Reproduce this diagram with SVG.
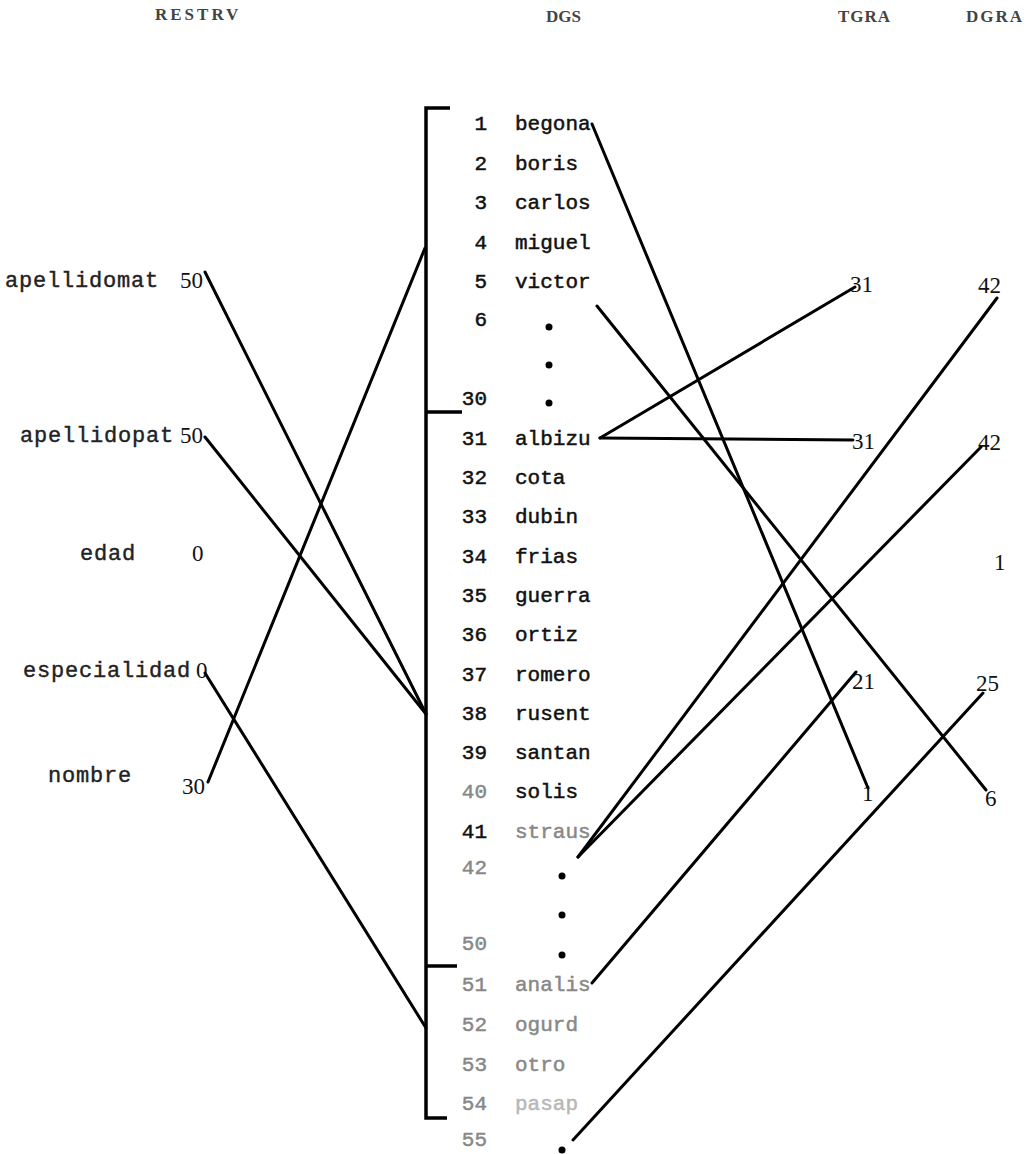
<svg xmlns="http://www.w3.org/2000/svg" width="1031" height="1154" viewBox="0 0 1031 1154">
<style>
.t{font-family:"Liberation Mono","DejaVu Sans Mono",monospace;font-size:21px;fill:#111;stroke:#111;stroke-width:0.5}
.n{text-anchor:end}
.f{fill:#888;stroke:#888}
.L{font-family:"Liberation Mono","DejaVu Sans Mono",monospace;font-size:22px;fill:#222;stroke:#222;stroke-width:0.4;letter-spacing:0.8px}
.h{font-family:"Liberation Serif","DejaVu Serif",serif;font-size:17px;fill:#444;font-weight:bold}
.r{font-family:"Liberation Serif","DejaVu Serif",serif;font-size:23px;fill:#111}
.c{stroke:#000;stroke-width:3;fill:none;stroke-linecap:round}
.d{fill:#000}
</style>
<rect width="1031" height="1154" fill="#fff"/>
<g id="headers">
<text class="h" x="155" y="20" letter-spacing="3">RESTRV</text>
<text class="h" x="546" y="22">DGS</text>
<text class="h" x="838" y="22" letter-spacing="1">TGRA</text>
<text class="h" x="966" y="22" letter-spacing="2">DGRA</text>
</g>
<g id="bracket" stroke="#000" stroke-width="3.5" fill="none">
<path d="M450 108 H426 V1118 H447"/>
<path d="M426 412 H462"/>
<path d="M426 966 H457"/>
</g>
<g id="fields">
<g id="f-apellidomat"><text class="L" x="5" y="287">apellidomat</text><text class="r" x="180" y="288">50</text></g>
<g id="f-apellidopat"><text class="L" x="20" y="442">apellidopat</text><text class="r" x="180" y="443">50</text></g>
<g id="f-edad"><text class="L" x="80" y="560">edad</text><text class="r" x="192" y="561">0</text></g>
<g id="f-especialidad"><text class="L" x="23" y="677" letter-spacing="0.2">especialidad</text><text class="r" x="196" y="678">0</text></g>
<g id="f-nombre"><text class="L" x="48" y="782">nombre</text><text class="r" x="182" y="794">30</text></g>
</g>
<g id="dgs">
<g id="r1"><text class="t n" x="487" y="130">1</text><text class="t" x="515" y="130">begona</text></g>
<g id="r2"><text class="t n" x="487" y="170">2</text><text class="t" x="515" y="170">boris</text></g>
<g id="r3"><text class="t n" x="487" y="209">3</text><text class="t" x="515" y="209">carlos</text></g>
<g id="r4"><text class="t n" x="487" y="249">4</text><text class="t" x="515" y="249">miguel</text></g>
<g id="r5"><text class="t n" x="487" y="288">5</text><text class="t" x="515" y="288">victor</text></g>
<g id="r6"><text class="t n" x="487" y="326">6</text></g>
<circle class="d" cx="549" cy="327" r="3.5"/>
<circle class="d" cx="549" cy="365" r="3.5"/>
<circle class="d" cx="549" cy="403" r="3.5"/>
<g id="r30"><text class="t n" x="487" y="405">30</text></g>
<g id="r31"><text class="t n" x="487" y="445">31</text><text class="t" x="515" y="445">albizu</text></g>
<g id="r32"><text class="t n" x="487" y="484">32</text><text class="t" x="515" y="484">cota</text></g>
<g id="r33"><text class="t n" x="487" y="523">33</text><text class="t" x="515" y="523">dubin</text></g>
<g id="r34"><text class="t n" x="487" y="563">34</text><text class="t" x="515" y="563">frias</text></g>
<g id="r35"><text class="t n" x="487" y="602">35</text><text class="t" x="515" y="602">guerra</text></g>
<g id="r36"><text class="t n" x="487" y="641">36</text><text class="t" x="515" y="641">ortiz</text></g>
<g id="r37"><text class="t n" x="487" y="681">37</text><text class="t" x="515" y="681">romero</text></g>
<g id="r38"><text class="t n" x="487" y="720">38</text><text class="t" x="515" y="720">rusent</text></g>
<g id="r39"><text class="t n" x="487" y="759">39</text><text class="t" x="515" y="759">santan</text></g>
<g id="r40"><text class="t n f" x="487" y="798">40</text><text class="t" x="515" y="798">solis</text></g>
<g id="r41"><text class="t n" x="487" y="838">41</text><text class="t f" x="515" y="838">straus</text></g>
<g id="r42"><text class="t n f" x="487" y="874">42</text></g>
<circle class="d" cx="562" cy="876" r="3.5"/>
<circle class="d" cx="562" cy="915" r="3.5"/>
<circle class="d" cx="562" cy="955" r="3.5"/>
<g id="r50"><text class="t n f" x="487" y="950">50</text></g>
<g id="r51"><text class="t n f" x="487" y="991">51</text><text class="t f" x="515" y="991">analis</text></g>
<g id="r52"><text class="t n f" x="487" y="1031">52</text><text class="t f" x="515" y="1031">ogurd</text></g>
<g id="r53"><text class="t n f" x="487" y="1071">53</text><text class="t f" x="515" y="1071">otro</text></g>
<g id="r54"><text class="t n f" x="487" y="1110">54</text><text class="t f" x="515" y="1110" opacity="0.6">pasap</text></g>
<g id="r55"><text class="t n f" x="487" y="1146">55</text></g>
<circle class="d" cx="562" cy="1150" r="3.5"/>
</g>
<g id="tgra">
<text class="r" x="850" y="292">31</text>
<text class="r" x="852" y="449">31</text>
<text class="r" x="852" y="689">21</text>
<text class="r" x="862" y="801">1</text>
</g>
<g id="dgra">
<text class="r" x="978" y="293">42</text>
<text class="r" x="978" y="450">42</text>
<text class="r" x="994" y="570">1</text>
<text class="r" x="976" y="691">25</text>
<text class="r" x="985" y="806">6</text>
</g>
<g id="connectors">
<path class="c" d="M205 272 L426 714"/>
<path class="c" d="M205 437 L426 714"/>
<path class="c" d="M208 782 L425 248" stroke-width="3.5"/>
<path class="c" d="M205 673 L426 1028" stroke-width="2.2"/>
<path class="c" d="M592 124 L868 788"/>
<path class="c" d="M597 306 L986 790"/>
<path class="c" d="M600 438 L855 287"/>
<path class="c" d="M600 438 L853 440"/>
<path class="c" d="M997 298 L578 857"/>
<path class="c" d="M981 447 L578 857"/>
<path class="c" d="M856 672 L592 983"/>
<path class="c" d="M983 693 L573 1140"/>
</g>
</svg>
